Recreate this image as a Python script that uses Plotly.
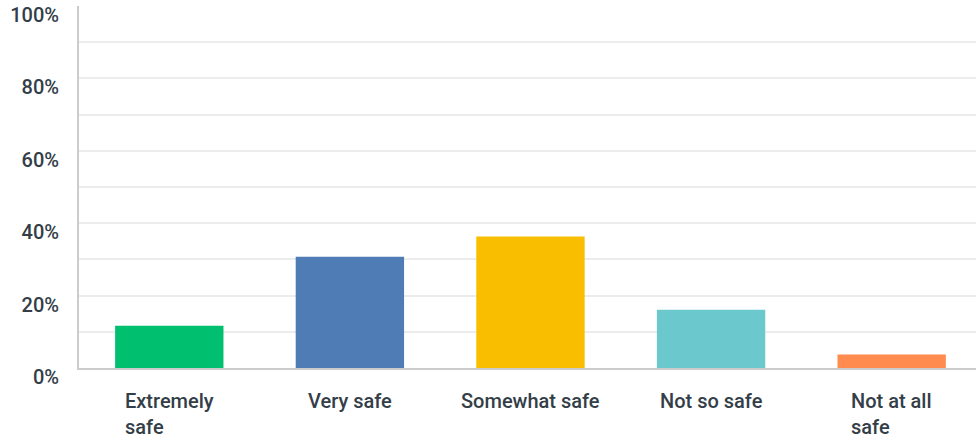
import plotly.graph_objects as go

categories = ["Extremely safe", "Very safe", "Somewhat safe", "Not so safe", "Not at all safe"]
label_lines = ["Extremely<br>safe", "Very safe", "Somewhat safe", "Not so safe", "Not at all<br>safe"]
values = [11.7, 30.7, 36.3, 16.1, 3.7]
colors = ["#00bf6f", "#507cb6", "#f9be00", "#6bc8cd", "#ff8b4f"]
y_ticks = [0, 20, 40, 60, 80, 100]
y_tick_text = ["0%", "20%", "40%", "60%", "80%", "100%"]

text_color = "#333e48"
font_family = "Roboto, 'Open Sans', sans-serif"

fig = go.Figure()
fig.add_trace(go.Bar(
    x=categories, y=values, marker=dict(color=colors, line=dict(width=0)),
    width=0.6, hoverinfo="x+y",
))

for cat, lab in zip(categories, label_lines):
    fig.add_annotation(
        x=cat, y=0, xref="x", yref="y", text=lab, showarrow=False,
        align="left", xanchor="center", yanchor="top", yshift=-19,
        font=dict(family=font_family, size=20, color=text_color, weight=500),
    )

fig.update_layout(
    width=976, height=440,
    margin=dict(l=79, r=0, t=6, b=72, autoexpand=False),
    paper_bgcolor="white", plot_bgcolor="white",
    showlegend=False, bargap=0.4,
    font=dict(family=font_family, size=18, color=text_color),
)
fig.update_xaxes(
    range=[-0.5, 4.467], showticklabels=False, showgrid=False, automargin=False,
    showline=True, linecolor="#cccccc", linewidth=2, ticks="", zeroline=False,
)
fig.update_yaxes(
    range=[0, 100], tickvals=y_ticks, ticktext=y_tick_text, automargin=False,
    showgrid=True, gridcolor="#ececec", gridwidth=2,
    minor=dict(dtick=10, showgrid=True, gridcolor="#ececec", gridwidth=2),
    showline=True, linecolor="#cccccc", linewidth=2, ticks="", zeroline=False,
    ticklabelshift=9, ticklabelstandoff=14,
    tickfont=dict(family=font_family, size=20, color=text_color, weight=500),
)

fig.write_html(
    "out.html",
    config={"displayModeBar": False},
    post_script="document.body.style.margin='0';document.body.style.overflow='hidden';",
)
